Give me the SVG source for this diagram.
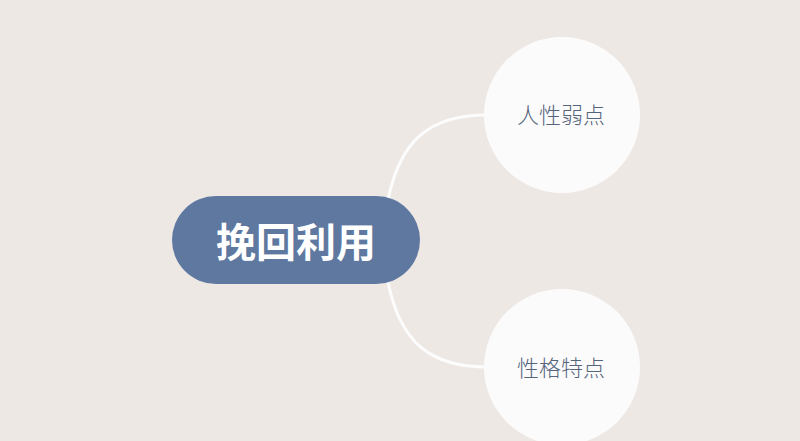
<svg xmlns="http://www.w3.org/2000/svg" width="800" height="441" viewBox="0 0 800 441">
  <style>
    .conn { fill: none; stroke: #fcfcfc; stroke-width: 3; stroke-linecap: round; }
    .leaf { fill: #fcfbfc; }
    .leaf-text { font-family: "Noto Sans CJK SC", "Noto Sans", sans-serif; font-size: 22px; font-weight: 300; fill: #55657b; text-anchor: middle; dominant-baseline: central; }
    .root-text { font-family: "Noto Sans CJK SC", "Noto Sans", sans-serif; font-size: 40px; font-weight: 700; fill: #ffffff; text-anchor: middle; dominant-baseline: central; }
  </style>
  <rect width="800" height="441" fill="#eee8e5"/>
  <g id="connectors">
    <path class="conn" d="M 388 200 C 400 140, 430 115, 487 115"/>
    <path class="conn" d="M 388 282 C 400 342, 430 367, 487 367"/>
  </g>
  <g id="node-root">
    <rect x="172" y="196" width="248" height="88" rx="44" ry="44" fill="#5e789f"/>
    <text class="root-text" x="296" y="240">挽回利用</text>
  </g>
  <g id="node-weakness">
    <circle class="leaf" cx="562" cy="115" r="78"/>
    <text class="leaf-text" x="561" y="113">人性弱点</text>
  </g>
  <g id="node-traits">
    <circle class="leaf" cx="562" cy="367" r="78"/>
    <text class="leaf-text" x="561" y="366">性格特点</text>
  </g>
</svg>
